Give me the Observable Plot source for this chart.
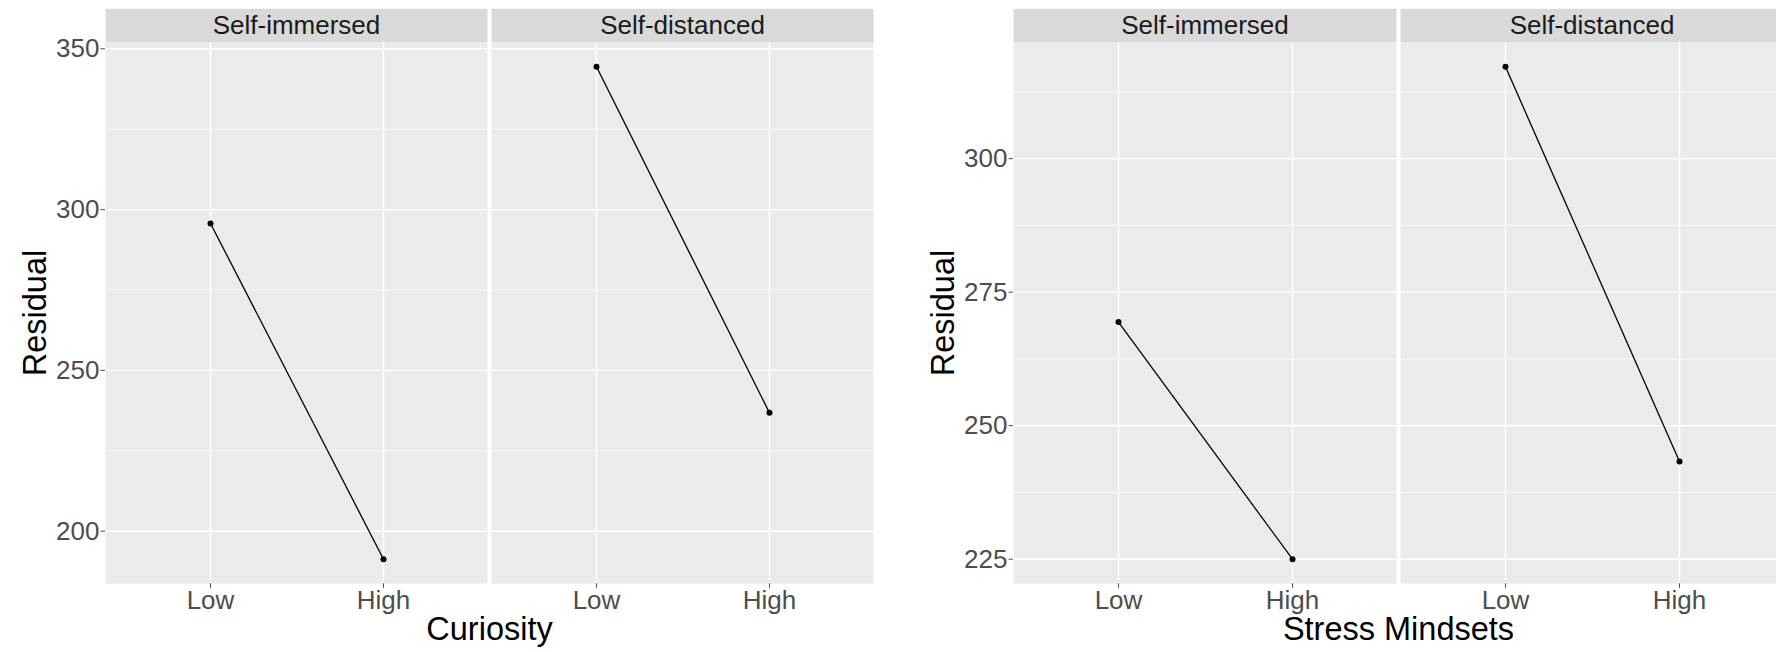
<!DOCTYPE html>
<html><head><meta charset="utf-8">
<script src="https://cdn.jsdelivr.net/npm/d3@7"></script>
<script src="https://cdn.jsdelivr.net/npm/@observablehq/plot@0.6"></script>
<style>
html,body{margin:0;padding:0;background:#fff;overflow:hidden;width:1776px;height:652px}
#wrap{position:relative;width:1776px;height:652px;overflow:hidden}
#left,#right{position:absolute;top:0}
#left{left:0;width:880px}
#right{left:880px;width:904px}
#wrap svg{display:block;max-width:none !important;height:652px !important}
</style></head>
<body><div id="wrap"><div id="left"></div><div id="right"></div></div>
<script>
const levels = ["Low", "High"];
const conditions = ["Self-immersed", "Self-distanced"];
const curiosityImmersed = [295.7, 191.3];
const curiosityDistanced = [344.4, 236.8];
const stressImmersed = [269.4, 225.0];
const stressDistanced = [317.2, 243.3];
const curiosityTicks = [200, 250, 300, 350];
const curiosityMinor = [225, 275, 325];
const stressTicks = [225, 250, 275, 300];
const stressMinor = [237.5, 262.5, 287.5, 312.5];

const FONT = "'Liberation Sans', Arial, Helvetica, sans-serif";
const TOP = 41.7, BOTTOM = 583.3, H = 652;

function chart({immersed, distanced, ticks, minor, xTitle, marginLeft, width, marginRight}) {
  const rows = [];
  levels.forEach((lv, i) => {
    rows.push({cond: conditions[0], level: lv, value: immersed[i]});
    rows.push({cond: conditions[1], level: lv, value: distanced[i]});
  });
  const vals = rows.map(d => d.value);
  const lo = d3.min(vals), hi = d3.max(vals), pad = (hi - lo) * 0.05;
  const panelH = BOTTOM - TOP;
  return Plot.plot({
    width, height: H,
    marginLeft, marginRight, marginTop: TOP, marginBottom: H - BOTTOM,
    style: {fontFamily: FONT, background: "white", overflow: "visible", maxWidth: "none"},
    fx: {domain: conditions, paddingInner: 0.0103, paddingOuter: 0, axis: null, label: null},
    x: {domain: levels, type: "point", padding: 0.6, axis: null},
    y: {domain: [lo - pad, hi + pad], axis: null},
    marks: [
      Plot.frame({fill: "#ebebeb", stroke: "none"}),
      Plot.frame({fill: "#d9d9d9", stroke: "none", insetTop: -(TOP - 8.3), insetBottom: panelH}),
      Plot.gridY(minor, {stroke: "#ffffff", strokeOpacity: 1, strokeWidth: 0.7}),
      Plot.gridY(ticks, {stroke: "#ffffff", strokeOpacity: 1, strokeWidth: 1.4}),
      Plot.gridX(levels, {stroke: "#ffffff", strokeOpacity: 1, strokeWidth: 1.4}),
      Plot.axisY(ticks, {tickSize: 4.5, tickPadding: 1.5, fontSize: 26, color: "#4d4d4d", label: null}),
      Plot.axisX(levels, {tickSize: 4.5, tickPadding: 2, fontSize: 26, color: "#4d4d4d", label: null}),
      Plot.text(conditions, {fx: d => d, text: d => d, frameAnchor: "top", dy: -(TOP - 8.3) / 2, lineAnchor: "middle", fontSize: 26, fill: "#1a1a1a"}),
      Plot.text(["Residual"], {fx: () => conditions[0], text: d => d, frameAnchor: "left", textAnchor: "middle", rotate: -90, dx: -70, lineAnchor: "middle", fontSize: 32.5, fill: "black"}),
      Plot.text([xTitle], {fx: () => conditions[0], text: d => d, frameAnchor: "bottom-right", textAnchor: "middle", dx: 2, dy: 55.7, lineAnchor: "bottom", fontSize: 32.5, fill: "black"}),
      Plot.line(rows, {fx: "cond", x: "level", y: "value", stroke: "black", strokeWidth: 1.3}),
      Plot.dot(rows, {fx: "cond", x: "level", y: "value", r: 3, fill: "black", stroke: "none"})
    ]
  });
}

document.getElementById("left").appendChild(chart({
  immersed: curiosityImmersed, distanced: curiosityDistanced,
  ticks: curiosityTicks, minor: curiosityMinor, xTitle: "Curiosity",
  marginLeft: 104, width: 880, marginRight: 6
}));
document.getElementById("right").appendChild(chart({
  immersed: stressImmersed, distanced: stressDistanced,
  ticks: stressTicks, minor: stressMinor, xTitle: "Stress Mindsets",
  marginLeft: 132, width: 904, marginRight: 0
}));
</script>
</body></html>
